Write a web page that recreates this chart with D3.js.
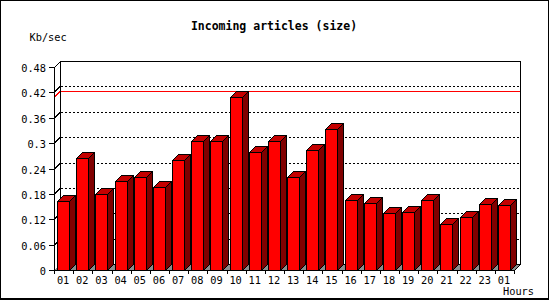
<!DOCTYPE html>
<html>
<head>
<meta charset="utf-8">
<script src="https://cdn.jsdelivr.net/npm/d3@7"></script>
<style>
  body { margin: 0; background: #fff; }
  text { font-family: "DejaVu Sans Mono", monospace; fill: #000; }
</style>
</head>
<body>
<div id="chart"></div>
<script>
var hours = ["01","02","03","04","05","06","07","08","09","10","11","12",
             "13","14","15","16","17","18","19","20","21","22","23","01"];
var sizes = [0.163, 0.264, 0.180, 0.210, 0.219, 0.196, 0.259, 0.305, 0.306, 0.409, 0.279, 0.305,
             0.219, 0.284, 0.334, 0.166, 0.158, 0.135, 0.137, 0.165, 0.109, 0.125, 0.156, 0.153];
var yTicks = [0, 0.06, 0.12, 0.18, 0.24, 0.3, 0.36, 0.42, 0.48];

// note: "top" is taken by window.top, so plot edges get a prefix
var width = 550, height = 300,
    pLeft = 54, pRight = 514, pBottom = 270, pTop = 67,
    depth = 6; // 3d offset, right and up

var svg = d3.select('#chart').append('svg')
    .attr('width', width)
    .attr('height', height)
    .style('shape-rendering', 'crispEdges');

var x = d3.scaleBand()
    .domain(d3.range(hours.length))
    .range([pLeft, pRight]);

var y = d3.scaleLinear()
    .domain([0, 0.48])
    .range([pBottom, pTop]);

// outer frame
svg.append('rect')
    .attr('x', 0.5).attr('y', 0.5)
    .attr('width', width - 2).attr('height', height - 1.5)
    .style('fill', 'none').style('stroke', '#000').style('stroke-width', 1.5);

// title + axis names
svg.append('text')
    .attr('x', 274).attr('y', 30)
    .attr('text-anchor', 'middle')
    .style('font-size', '11.5px').style('font-weight', 'bold')
    .text('Incoming articles (size)');

svg.append('text')
    .attr('x', 29.5).attr('y', 40.5)
    .style('font-size', '10.3px')
    .text('Kb/sec');

svg.append('text')
    .attr('x', 534).attr('y', 295)
    .attr('text-anchor', 'end')
    .style('font-size', '10.3px')
    .text('Hours');

// floor
svg.append('path')
    .attr('d', 'M' + pLeft + ',' + pBottom + 'L' + pRight + ',' + pBottom +
        'L' + (pRight + depth) + ',' + (pBottom - depth) + 'L' + (pLeft + depth) + ',' + (pBottom - depth) + 'Z')
    .style('fill', '#8c8c8c');

// dotted grid on the back wall + little stubs on the left wall
var grid = svg.append('g');
yTicks.slice(1, -1).forEach(function(t) {
    var yy = Math.round(y(t)) - depth;
    // dots: 2px on / 2px off
    for (var xx = pLeft + depth + 1; xx < pRight + depth; xx += 4) {
        grid.append('rect')
            .attr('x', xx).attr('y', yy)
            .attr('width', 2).attr('height', 1)
            .attr('fill', '#000');
    }
    grid.append('line')
        .attr('x1', pLeft).attr('x2', pLeft + depth)
        .attr('y1', yy + depth + 0.5).attr('y2', yy + 0.5)
        .style('stroke', '#000');
});

// max line in red
var maxY = Math.round(y(d3.max(sizes)));
svg.append('rect')
    .attr('x', pLeft + depth).attr('y', maxY - depth)
    .attr('width', pRight - pLeft).attr('height', 1)
    .attr('fill', '#ff0000');
svg.append('line')
    .attr('x1', pLeft).attr('x2', pLeft + depth)
    .attr('y1', maxY + 0.5).attr('y2', maxY - depth + 0.5)
    .attr('stroke', '#ff0000');

// back walls outline
var frame = 'M' + (pLeft + 0.5) + ',' + (pBottom + 0.5) + 'V' + (pTop + 0.5) +
    'L' + (pLeft + depth + 0.5) + ',' + (pTop - depth + 0.5) + 'H' + (pRight + depth + 0.5) +
    'V' + (pBottom - depth + 0.5) + 'L' + (pRight + 0.5) + ',' + (pBottom + 0.5) + 'Z' +
    'M' + (pLeft + depth + 0.5) + ',' + (pTop - depth + 0.5) + 'V' + (pBottom - depth + 0.5) +
    'H' + (pRight + depth + 0.5);
svg.append('path')
    .attr('d', frame)
    .style('fill', 'none').style('stroke', '#000');

// bars
var bw = x.bandwidth(),
    barW = Math.round(bw * 0.63),
    off = Math.round(bw * 0.14);

var bars = svg.append('g').selectAll('g')
    .data(sizes)
    .enter().append('g');

bars.each(function(d, i) {
    var g = d3.select(this),
        x0 = Math.round(x(i)) + off + 0.5,
        x1 = x0 + barW,
        y0 = Math.round(y(d)) + 0.5,
        yb = pBottom + 0.5;

    // side
    g.append('path')
        .attr('d', 'M' + x1 + ',' + y0 + 'L' + (x1 + depth) + ',' + (y0 - depth) +
            'V' + (yb - depth) + 'L' + x1 + ',' + yb + 'Z')
        .style('fill', '#800000').style('stroke', '#000');
    // top
    g.append('path')
        .attr('d', 'M' + x0 + ',' + y0 + 'L' + (x0 + depth) + ',' + (y0 - depth) +
            'H' + (x1 + depth) + 'L' + x1 + ',' + y0 + 'Z')
        .style('fill', '#c40000').style('stroke', '#000');
    // front
    g.append('rect')
        .attr('x', x0).attr('y', y0)
        .attr('width', barW).attr('height', yb - y0)
        .style('fill', '#ff0000').style('stroke', '#000');
});

// front axes drawn on top
svg.append('line')
    .attr('x1', pLeft + 0.5).attr('x2', pLeft + 0.5)
    .attr('y1', pTop).attr('y2', pBottom + 1)
    .style('stroke', '#000');
svg.append('line')
    .attr('x1', pLeft).attr('x2', pRight + 1)
    .attr('y1', pBottom + 0.5).attr('y2', pBottom + 0.5)
    .style('stroke', '#000');

// y axis ticks + labels
var yAxis = svg.append('g');
yTicks.forEach(function(t) {
    var yy = Math.round(y(t)) + 0.5;
    yAxis.append('line')
        .attr('x1', pLeft - 5).attr('x2', pLeft)
        .attr('y1', yy).attr('y2', yy)
        .style('stroke', '#000');
    yAxis.append('text')
        .attr('x', 46).attr('y', yy + 4)
        .attr('text-anchor', 'end')
        .style('font-size', '10.3px')
        .text(t === 0 ? '0' : d3.format('.2~f')(t));
});

// x axis ticks + labels
var xAxis = svg.append('g');
d3.range(hours.length + 1).forEach(function(i) {
    var xx = Math.round(pLeft + i * bw) + 0.5;
    xAxis.append('line')
        .attr('x1', xx).attr('x2', xx)
        .attr('y1', pBottom).attr('y2', pBottom + 4)
        .style('stroke', '#000');
});
hours.forEach(function(h, i) {
    xAxis.append('text')
        .attr('x', x(i) + bw / 2 - 0.5).attr('y', 284)
        .attr('text-anchor', 'middle')
        .style('font-size', '10.3px')
        .text(h);
});
</script>
</body>
</html>
